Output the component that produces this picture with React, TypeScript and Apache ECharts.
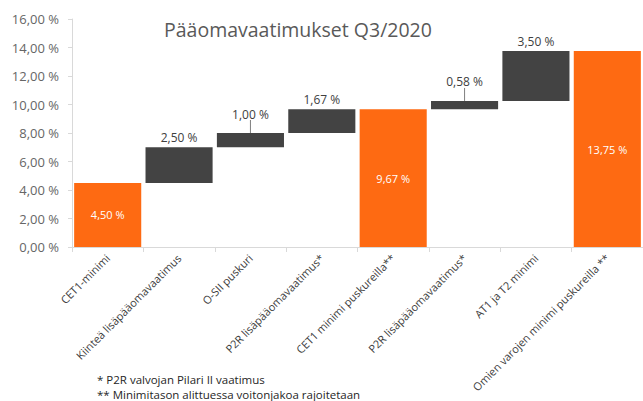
import React, { useEffect, useRef } from "react";
import * as echarts from "echarts";

const categories = [
  "CET1-minimi",
  "Kiinteä lisäpääomavaatimus",
  "O-SII puskuri",
  "P2R lisäpääomavaatimus*",
  "CET1 minimi puskureilla**",
  "P2R lisäpääomavaatimus*",
  "AT1 ja T2 minimi",
  "Omien varojen minimi puskureilla **",
];
const values = [4.5, 2.5, 1.0, 1.67, 9.67, 0.58, 3.5, 13.75];
const isTotal = [true, false, false, false, true, false, false, true];
const leaderLine = [false, false, true, false, false, true, false, false];
const yTicks = [0, 2, 4, 6, 8, 10, 12, 14, 16];
const title = "Pääomavaatimukset Q3/2020";
const footnotes = ["* P2R valvojan Pilari II vaatimus", "** Minimitason alittuessa voitonjakoa rajoitetaan"];

const ORANGE = "#fe6a12";
const GRAY = "#434343";
const FONT = "Open Sans";

const fmt = (v: number) => v.toFixed(2).replace(".", ",") + " %";

export default function App() {
  const ref = useRef<HTMLDivElement>(null);
  useEffect(() => {
    if (!ref.current) return;
    const chart = echarts.init(ref.current, undefined, { renderer: "svg" });
    let run = 0;
    const bases = values.map((v, i) => {
      if (isTotal[i]) {
        run = v;
        return 0;
      }
      const b = run;
      run += v;
      return b;
    });
    chart.setOption({
      animation: false,
      textStyle: { fontFamily: FONT },
      title: {
        text: title,
        left: 159,
        top: 14,
        textStyle: { fontFamily: FONT, fontSize: 19.5, fontWeight: "normal", color: "#595959" },
      },
      grid: { left: 72, right: -10, top: 19, bottom: 154, containLabel: false },
      xAxis: {
        type: "category",
        data: categories,
        axisLine: { lineStyle: { color: "#d9d9d9" } },
        axisTick: { show: true, length: 5, lineStyle: { color: "#d9d9d9" } },
        axisLabel: { rotate: 45, fontSize: 11, color: "#404040", margin: 9, interval: 0, fontFamily: FONT },
      },
      yAxis: {
        type: "value",
        min: yTicks[0],
        max: yTicks[yTicks.length - 1],
        interval: 2,
        splitLine: { show: false },
        axisLine: { show: true, lineStyle: { color: "#d9d9d9" } },
        axisTick: { show: true, length: 4, lineStyle: { color: "#d9d9d9" } },
        axisLabel: { formatter: fmt, fontSize: 13, color: "#666666", margin: 13, fontFamily: FONT },
      },
      series: [
        {
          type: "bar",
          stack: "w",
          data: bases,
          itemStyle: { color: "transparent" },
          silent: true,
          barCategoryGap: "6%",
        },
        {
          type: "bar",
          stack: "w",
          barCategoryGap: "6%",
          data: values.map((v, i) => ({
            value: v,
            itemStyle: { color: isTotal[i] ? ORANGE : GRAY },
            label: isTotal[i]
              ? { show: true, position: "inside", color: "#ffffff", fontSize: 11, formatter: () => fmt(v) }
              : {
                  show: true,
                  position: "top",
                  distance: leaderLine[i] ? 12 : 4,
                  color: "#404040",
                  fontSize: 12,
                  formatter: () => fmt(v),
                },
            labelLine: { show: leaderLine[i], lineStyle: { color: "#7f7f7f", width: 1 } },
          })),
          labelLayout: (p: any) => (leaderLine[p.dataIndex] ? { dy: -1 } : {}),
        },
      ],
      graphic: footnotes.map((t, i) => ({
        type: "text",
        left: 97,
        top: 373 + i * 15,
        style: { text: t, fontSize: 11.5, fill: "#262626", fontFamily: FONT },
      })),
    });
    return () => chart.dispose();
  }, []);
  return <div ref={ref} style={{ width: 643, height: 401, position: "absolute", left: 0, top: 0 }} />;
}
